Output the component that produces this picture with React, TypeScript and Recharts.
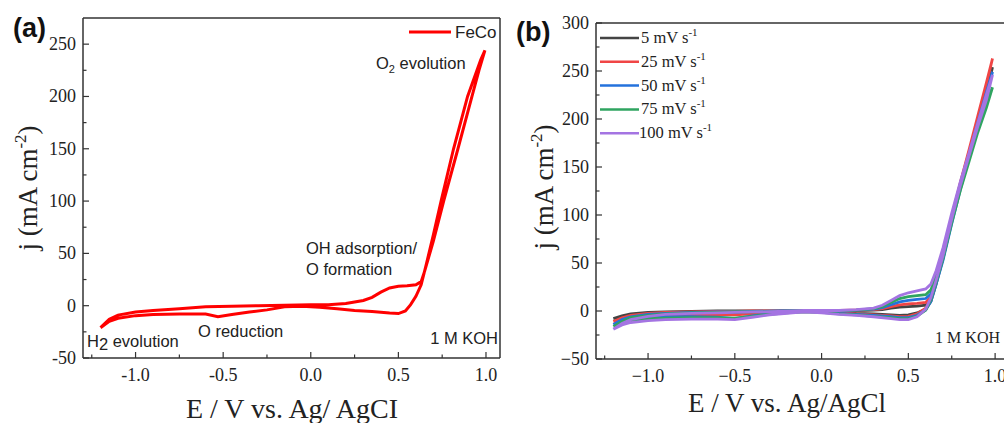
import React from "react";
import { LineChart, Line, XAxis, YAxis, ReferenceLine } from "recharts";

// (a) FeCo cyclic voltammogram, one closed loop (forward sweep then reverse)
const feCoE = [
  -1.2, -1.15, -1.1, -1.0, -0.9, -0.75, -0.6, -0.45, -0.3, -0.15, 0.0, 0.1, 0.2, 0.3, 0.35, 0.4,
  0.45, 0.5, 0.55, 0.6, 0.63, 0.65, 0.7, 0.76, 0.84, 0.92, 0.96, 0.994,
  0.97, 0.895, 0.815, 0.745, 0.7, 0.66, 0.63, 0.6, 0.57, 0.54, 0.5, 0.45, 0.35, 0.25, 0.15, 0.05,
  -0.05, -0.15, -0.25, -0.35, -0.45, -0.53, -0.6, -0.75, -0.9, -1.0, -1.1, -1.15, -1.2,
];
const feCoJ = [
  -21, -13, -9, -6, -4.5, -3, -1, -0.5, 0, 0.5, 0.8, 1, 2, 5, 8, 13,
  17, 18.5, 19, 20, 23, 33, 62, 101, 150, 200, 225, 244,
  235, 200, 150, 101, 68, 40, 20, 9, 1, -5, -7.5, -7, -5.5, -4.5, -3, -1.5,
  -0.5, -1, -4, -6, -8.5, -10.5, -8, -8, -8.5, -9.5, -12, -15, -21,
];

// (b) scan-rate series, shared potential sweep
const scanE = [
  -1.2, -1.15, -1.1, -1.0, -0.9, -0.75, -0.6, -0.5, -0.4, -0.25, -0.1, 0.0, 0.1, 0.2, 0.3, 0.35,
  0.4, 0.45, 0.5, 0.55, 0.6, 0.63, 0.66, 0.7, 0.75, 0.8, 0.85, 0.9, 0.95, 0.985,
  0.95, 0.9, 0.85, 0.8, 0.75, 0.7, 0.66, 0.63, 0.6, 0.55, 0.5, 0.45, 0.4, 0.3, 0.2, 0.1, 0.0,
  -0.1, -0.2, -0.3, -0.4, -0.5, -0.6, -0.75, -0.9, -1.0, -1.1, -1.15, -1.2,
];
const j5 = [
  -8, -5, -3, -1.5, -1, -0.5, 0, 0, 0, 0, 0.5, 0.5, 0.5, 0.5, 1, 1.5,
  3, 4, 4.5, 5, 6, 12, 30, 58, 97, 133, 165, 198, 230, 254,
  228, 196, 162, 130, 94, 55, 28, 10, 2, -2, -4, -4.5, -4, -3, -2.5, -1.5, -0.5,
  0, -0.5, -1, -1.5, -2, -2, -2.5, -3, -3.5, -4.5, -5.5, -8,
];
const j25 = [
  -11, -7, -4.5, -2.5, -1.5, -1, -0.5, -0.5, 0, 0, 0.5, 0.5, 0.5, 1, 1.5, 2.5,
  4.5, 6.5, 7.5, 8, 9, 15, 32, 60, 98, 134, 168, 203, 238, 263,
  236, 200, 165, 131, 95, 56, 30, 12, 3, -3, -5.5, -6, -5, -4, -3, -2, -1,
  -0.5, -1, -2, -3, -4, -3.5, -4, -4.5, -5, -6.5, -8, -11,
];
const j50 = [
  -14, -9, -6, -3.5, -2.5, -1.5, -1, -1, -0.5, 0, 0.5, 0.5, 0.5, 1, 2, 3.5,
  6.5, 9.5, 11, 12, 13, 18, 34, 60, 97, 132, 163, 196, 228, 249,
  224, 193, 160, 127, 91, 53, 28, 10, 1, -4.5, -7, -7, -6, -4.5, -3.5, -2.5, -1,
  -0.5, -1.5, -3, -5, -8, -6.5, -6, -6, -6.5, -8, -10, -14,
];
const j75 = [
  -16, -11, -7, -4.5, -3, -2, -1.5, -1, -1, -0.5, 0.5, 0.5, 0.5, 1, 2.5, 4.5,
  9, 13, 15, 16, 17, 22, 37, 62, 98, 130, 160, 190, 218, 233,
  212, 186, 156, 126, 92, 55, 30, 12, 1, -5.5, -8, -8, -7, -5.5, -4, -3, -1.5,
  -0.5, -2, -3.5, -5.5, -7.5, -7, -7, -7.5, -8, -10, -12, -16,
];
const j100 = [
  -19, -13, -9, -5.5, -3.5, -2.5, -2, -1.5, -1, -0.5, 0.5, 0.5, 0.5, 1.5, 3, 6,
  11, 16, 19, 21, 23, 28, 42, 66, 102, 135, 165, 196, 226, 246,
  220, 192, 162, 131, 96, 58, 32, 14, 2, -6, -9, -9, -8, -6, -4.5, -3.5, -2,
  -1, -2.5, -4, -6.5, -9, -8.5, -8.5, -9, -10, -12, -14.5, -19,
];
const scanRates = ["5", "25", "50", "75", "100"];
const scanKeys = ["r5", "r25", "r50", "r75", "r100"];

const xTicks = [-1.25, -1.0, -0.75, -0.5, -0.25, 0.0, 0.25, 0.5, 0.75, 1.0];
const yTicksA = [-50, -25, 0, 25, 50, 75, 100, 125, 150, 175, 200, 225, 250];
const yTicksB = [-50, -25, 0, 25, 50, 75, 100, 125, 150, 175, 200, 225, 250, 275, 300];

const feCoData = feCoE.map((E, i) => ({ E, j: feCoJ[i] }));
const scanSeries = [j5, j25, j50, j75, j100];
const scanData = scanE.map((E, i) => {
  const row: Record<string, number> = { E };
  scanKeys.forEach((k, s) => (row[k] = scanSeries[s][i]));
  return row;
});

const serif = "'Liberation Serif', 'Times New Roman', serif";
const sans = "'Liberation Sans', Arial, sans-serif";
const axisColor = "#333";
const textColor = "#222";
const scanColors = ["#444444", "#f04545", "#2472dc", "#2fa460", "#a474e2"];

const fmt = (v: number, minus: string, digits: number) => {
  const s = Math.abs(v).toFixed(digits);
  return v < 0 ? minus + s : s;
};

const XTick = (props: any) => {
  const { x, y, payload, minus } = props;
  const v = payload.value;
  const major = Math.abs(v * 2 - Math.round(v * 2)) < 1e-6;
  return (
    <g>
      <line x1={x} x2={x} y1={y} y2={y - (major ? 6 : 3.5)} stroke={axisColor} strokeWidth={1.2} />
      {major && (
        <text x={x} y={y + 23} textAnchor="middle" fontFamily={serif} fontSize={18} fill={textColor}>
          {fmt(v, minus, 1)}
        </text>
      )}
    </g>
  );
};

const YTick = (props: any) => {
  const { x, y, payload, minus } = props;
  const v = payload.value;
  const major = v % 50 === 0;
  return (
    <g>
      <line x1={x} x2={x + (major ? 6 : 3.5)} y1={y} y2={y} stroke={axisColor} strokeWidth={1.2} />
      {major && (
        <text x={x - 7} y={y + 6} textAnchor="end" fontFamily={serif} fontSize={18} fill={textColor}>
          {fmt(v, minus, 0)}
        </text>
      )}
    </g>
  );
};

const axisLine = { stroke: axisColor, strokeWidth: 1.5 };

const Overlay = () => (
  <svg
    width={1004}
    height={423}
    style={{ position: "absolute", left: 0, top: 0, pointerEvents: "none" }}
  >
    {/* panel (a) */}
    <text x={13} y={37} fontFamily={sans} fontWeight="bold" fontSize={27} fill="#111">(a)</text>
    <text
      transform="translate(37,188) rotate(-90)"
      textAnchor="middle"
      fontFamily={serif}
      fontSize={27}
      fill={textColor}
    >
      j (mA cm<tspan dy={-11} fontSize={17}>-2</tspan>
      <tspan dy={11}>)</tspan>
    </text>
    <text x={292} y={418} textAnchor="middle" fontFamily={serif} fontSize={28} fill={textColor}>
      E / V vs. Ag/ AgCI
    </text>
    <line x1={409} x2={451} y1={32} y2={32} stroke="#ff0000" strokeWidth={3} />
    <text x={455} y={38} fontFamily={sans} fontSize={17} fill={textColor}>FeCo</text>
    <text x={376} y={69} fontFamily={sans} fontSize={16.5} fill={textColor}>
      O<tspan dy={4} fontSize={11}>2</tspan>
      <tspan dy={-4}> evolution</tspan>
    </text>
    <text x={306} y={254} fontFamily={sans} fontSize={16.5} fill={textColor}>OH adsorption/</text>
    <text x={306} y={275} fontFamily={sans} fontSize={16.5} fill={textColor}>O formation</text>
    <text x={198} y={337} fontFamily={sans} fontSize={16.5} fill={textColor}>O reduction</text>
    <text x={87} y={347} fontFamily={sans} fontSize={16.5} fill={textColor}>
      H<tspan dy={3}>2</tspan>
      <tspan dy={-3}> evolution</tspan>
    </text>
    <text x={498} y={344} textAnchor="end" fontFamily={sans} fontSize={16.5} fill={textColor}>1 M KOH</text>

    {/* panel (b) */}
    <text x={516} y={41} fontFamily={sans} fontWeight="bold" fontSize={27} fill="#111">(b)</text>
    <text
      transform="translate(553,187) rotate(-90)"
      textAnchor="middle"
      fontFamily={serif}
      fontSize={27}
      fill={textColor}
    >
      j (mA cm<tspan dy={-11} fontSize={17}>-2</tspan>
      <tspan dy={11}>)</tspan>
    </text>
    <text x={787} y={412} textAnchor="middle" fontFamily={serif} fontSize={27} fill={textColor}>
      E / V vs. Ag/AgCl
    </text>
    {scanRates.map((r, i) => (
      <g key={r}>
        <line x1={600} x2={639} y1={38 + i * 23.8} y2={38 + i * 23.8} stroke={scanColors[i]} strokeWidth={2.5} />
        <text x={r === "100" ? 639 : 641} y={43 + i * 23.8} fontFamily={serif} fontSize={16.5} fill={textColor}>
          {r} mV s<tspan dy={-7} fontSize={11}>-1</tspan>
        </text>
      </g>
    ))}
    <text x={1000} y={343} textAnchor="end" fontFamily={serif} fontSize={16} fill={textColor}>1 M KOH</text>
  </svg>
);

const App = () => (
  <div
    style={{
      position: "absolute",
      left: 0,
      top: 0,
      width: 1004,
      height: 423,
      overflow: "hidden",
      background: "#fff",
    }}
  >
    <div style={{ position: "absolute", left: 0, top: 0 }}>
      <LineChart width={510} height={423} data={feCoData} margin={{ top: 18, right: 10, bottom: 35, left: 33 }}>
        <XAxis
          dataKey="E"
          type="number"
          domain={[-1.3, 1.08]}
          ticks={xTicks}
          interval={0}
          allowDataOverflow
          tickSize={0}
          tickMargin={0}
          height={30}
          axisLine={axisLine}
          tick={<XTick minus="-" />}
        />
        <YAxis
          type="number"
          domain={[-50, 275]}
          ticks={yTicksA}
          interval={0}
          allowDataOverflow
          tickSize={0}
          tickMargin={0}
          width={50}
          axisLine={axisLine}
          tick={<YTick minus="-" />}
        />
        <ReferenceLine y={275} stroke={axisColor} strokeWidth={1.5} ifOverflow="visible" />
        <ReferenceLine x={1.08} stroke={axisColor} strokeWidth={1.5} ifOverflow="visible" />
        <Line
          dataKey="j"
          type="linear"
          stroke="#ff0000"
          strokeWidth={3}
          dot={false}
          isAnimationActive={false}
        />
      </LineChart>
    </div>
    <div style={{ position: "absolute", left: 510, top: 0 }}>
      <LineChart width={510} height={423} data={scanData} margin={{ top: 23, right: 11, bottom: 34, left: 36 }}>
        <XAxis
          dataKey="E"
          type="number"
          domain={[-1.3, 1.08]}
          ticks={xTicks}
          interval={0}
          allowDataOverflow
          tickSize={0}
          tickMargin={0}
          height={30}
          axisLine={axisLine}
          tick={<XTick minus="−" />}
        />
        <YAxis
          type="number"
          domain={[-50, 300]}
          ticks={yTicksB}
          interval={0}
          allowDataOverflow
          tickSize={0}
          tickMargin={0}
          width={50}
          axisLine={axisLine}
          tick={<YTick minus="−" />}
        />
        <ReferenceLine y={300} stroke={axisColor} strokeWidth={1.5} ifOverflow="visible" />
        {scanKeys.map((k, i) => (
          <Line
            key={k}
            dataKey={k}
            type="linear"
            stroke={scanColors[i]}
            strokeWidth={2.8}
            dot={false}
            isAnimationActive={false}
          />
        ))}
      </LineChart>
    </div>
    <Overlay />
  </div>
);

export default App;
